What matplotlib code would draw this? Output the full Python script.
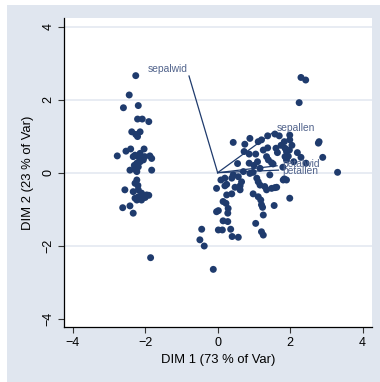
import matplotlib
matplotlib.use("Agg")
import matplotlib.pyplot as plt
from matplotlib.patches import Rectangle

plt.rcParams['font.family'] = ['Liberation Sans', 'DejaVu Sans']

setosa_x = [-2.26, -2.44, -2.60, -2.19, -2.21, -2.08, -1.90, -2.37, -2.14, -2.21, -2.26,
            -2.03, -2.40, -2.53, -2.77, -2.28, -2.14, -2.01, -1.87, -1.82, -2.23, -2.14,
            -2.05, -2.42, -2.28, -2.19, -1.82, -2.23, -2.33, -2.16,
            -2.23, -2.28, -2.56, -2.33, -2.19, -2.10, -1.96, -2.05, -2.28, -2.19, -2.23,
            -2.10, -2.00, -1.90, -2.62, -2.42, -2.33, -1.85, -2.30, -2.20]
setosa_y = [2.66, 2.13, 1.78, 1.84, 1.47, 1.47, 1.40, 1.12, 1.12, 0.99, 1.05,
            0.65, 0.65, 0.59, 0.46, 0.48, 0.53, 0.44, 0.46, 0.39, 0.26, 0.30,
            0.35, 0.07, 0.09, 0.16, 0.07, 0.03, 0.44, 0.40,
            -0.20, -0.29, -0.47, -0.52, -0.47, -0.56, -0.61, -0.66, -0.70, -0.66, -0.75,
            -0.75, -0.68, -0.62, -0.96, -0.91, -1.11, -2.33, 0.20, -0.35]

other_x = [2.30, 2.43, 2.25, 0.43, 0.75, 1.12, 1.38, 1.58, 1.70, 1.99, 1.99, 1.84, 2.78, 2.80,
           0.73, 0.87, 1.05, 1.26, 1.38, 1.61, 1.86, 1.90, 1.98, 1.35, 1.40, 1.49, 1.53,
           1.86, 1.90, 2.20, 2.30, 2.90, 2.44, 0.87, 1.17, 0.71, 0.98, 1.84, 1.90, 3.31,
           0.09, 0.25, -0.03, 0.39, 0.57, 0.66, 0.89, 1.08, 1.12, 1.17, 1.44, 1.30, 1.49, 1.58,
           0.25, 0.39, 0.62, 0.98, 1.12, 1.19, 1.35, 1.99, 0.15, 0.23, 0.29, 0.28, -0.03, 0.02,
           1.21, 1.24, 1.56, 1.26, 0.15, 0.28, 1.05, -0.44, 0.02, 0.13, 0.36, 1.21, 1.26,
           0.40, 0.57, -0.49, -0.37, -0.12, 0.20, 0.48, 0.62, 0.43, 0.20, 1.81, 1.63,
           0.89, 1.21, 1.75, 1.65, 2.05, 1.10, 1.95, 2.10, 0.55, 1.00, 1.80]
other_y = [2.61, 2.54, 1.92, 0.83, 0.78, 0.85, 1.01, 1.06, 1.01, 1.03, 0.90, 0.85, 0.81, 0.85,
           0.58, 0.51, 0.51, 0.62, 0.68, 0.67, 0.67, 0.58, 0.62, 0.44, 0.35, 0.27, 0.24,
           0.44, 0.35, 0.55, 0.42, 0.42, 0.26, 0.26, 0.12, 0.03, 0.01, -0.17, -0.20, 0.01,
           -0.20, -0.32, -0.43, -0.15, -0.11, -0.25, -0.02, -0.15, -0.25, -0.34, -0.06, -0.38, -0.43, -0.41,
           -0.61, -0.58, -0.47, -0.58, -0.66, -0.75, -0.47, -0.70, -0.79, -0.84, -0.98, -1.11, -1.07, -1.04,
           -0.88, -0.95, -0.90, -1.16, -1.32, -1.34, -1.39, -1.55, -1.57, -1.57, -1.55, -1.62, -1.71,
           -1.75, -1.77, -1.84, -2.01, -2.65, -0.36, -0.40, -0.36, -0.06, -0.15, -0.20, -0.40,
           0.94, 0.90, 0.75, 0.55, 0.75, 0.30, 0.45, 0.30, 0.25, 0.20, 0.15]

# ---- variable vectors ----
var_names = ['sepallen', 'sepalwid', 'petallen', 'petalwid']
var_x = [1.51, -0.79, 1.68, 1.64]
var_y = [1.09, 2.65, 0.07, 0.19]

ticks = [-4, -2, 0, 2, 4]
xlabel = 'DIM 1 (73 % of Var)'
ylabel = 'DIM 2 (23 % of Var)'

navy = '#1f3b6d'
label_col = '#52648c'

fig = plt.figure(figsize=(3.80, 3.82), dpi=100)
fig.patch.set_facecolor('white')
bg = Rectangle((7/380, 0), 1 - 7/380, 1 - 5/382, transform=fig.transFigure,
               facecolor='#e0e6ef', edgecolor='none', zorder=-10)
fig.add_artist(bg)

ax = fig.add_axes([64/380, 1 - 327/382, (372 - 64)/380, (327 - 18)/382])
ax.set_zorder(1)
ax.set_facecolor('white')
ax.set_xlim(-4.24, 4.26)
ax.set_ylim(-4.23, 4.24)

for g in [-2, 0, 2, 4]:
    ax.axhline(g, color='#e6eaf2', lw=1.3, zorder=0.5)

ax.scatter(setosa_x, setosa_y, s=25, color=navy, edgecolors='none', zorder=3)
ax.scatter(other_x, other_y, s=25, color=navy, edgecolors='none', zorder=3)

for vx, vy in zip(var_x, var_y):
    ax.plot([0, vx], [0, vy], color=navy, lw=0.9, zorder=2)

offsets = {
    'sepalwid': ((-1, 5), 'right', 'center'),
    'sepallen': ((3.3, 3.6), 'left', 'center'),
    'petalwid': ((3.6, 1.0), 'left', 'center'),
    'petallen': ((2.6, -0.8), 'left', 'center'),
}
for name, vx, vy in zip(var_names, var_x, var_y):
    off, ha, va = offsets[name]
    ax.annotate(name, (vx, vy), xytext=off, textcoords='offset points',
                ha=ha, va=va, fontsize=7.4, color=label_col, zorder=4)

ax.set_xticks(ticks)
ax.set_yticks(ticks)
ax.tick_params(axis='both', direction='out', length=4, width=0.8, color='#333333',
               labelsize=9, pad=3)
for lbl in ax.get_yticklabels():
    lbl.set_rotation(90)
    lbl.set_va('center')

for s in ['top', 'right']:
    ax.spines[s].set_visible(False)
for s in ['left', 'bottom']:
    ax.spines[s].set_color('black')
    ax.spines[s].set_linewidth(0.9)

ax.set_xlabel(xlabel, fontsize=9.4, labelpad=4)
ax.set_ylabel(ylabel, fontsize=9.4, labelpad=6)

fig.savefig('out.png', dpi=100)
